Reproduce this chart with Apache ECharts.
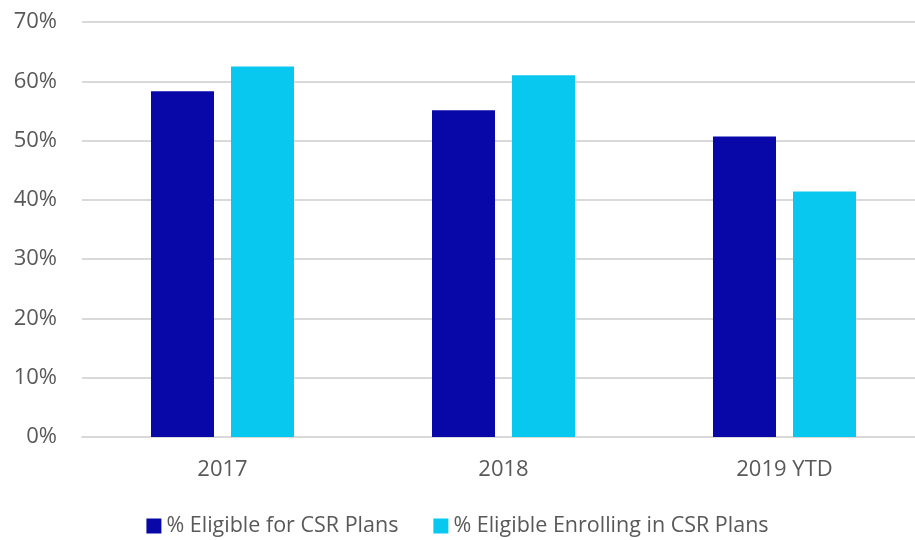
<!DOCTYPE html>
<html>
<head>
<meta charset="utf-8">
<script src="https://cdn.jsdelivr.net/npm/echarts@6/dist/echarts.min.js"></script>
<style>
  html, body { margin: 0; padding: 0; background: #fff; }
  #chart { width: 915px; height: 540px; }
</style>
</head>
<body>
<div id="chart"></div>
<script>
const categories = ["2017", "2018", "2019 YTD"];
const eligible = [58.3, 55.1, 50.7];
const enrolling = [62.5, 61.0, 41.4];
const seriesNames = ["% Eligible for CSR Plans", "% Eligible Enrolling in CSR Plans"];

const FONT = "'Open Sans', sans-serif";
const TEXT = "#595959";

const chart = echarts.init(document.getElementById("chart"));

chart.setOption({
  animation: false,
  color: ["#0808A8", "#08C8F0"],
  // plot runs a little past the right edge, as in the original
  grid: {
    left: 82, width: 843, top: 22, bottom: 103,
    containLabel: false, outerBoundsMode: "none"
  },
  legend: {
    bottom: -2,
    left: "center",
    itemWidth: 15,
    itemHeight: 15,
    itemGap: 35,
    icon: "rect",
    textStyle: { fontFamily: FONT, fontSize: 21.5, color: TEXT }
  },
  xAxis: {
    type: "category",
    data: categories,
    axisLine: { lineStyle: { color: "#d9d9d9", width: 2 } },
    axisTick: { show: false },
    axisLabel: { fontFamily: FONT, fontSize: 22, color: TEXT, margin: 22 }
  },
  yAxis: {
    type: "value",
    min: 0,
    max: 70,
    interval: 10,
    axisLine: { show: false },
    axisTick: { show: false },
    splitLine: { lineStyle: { color: "#d9d9d9", width: 2 } },
    axisLabel: {
      fontFamily: FONT, fontSize: 22, color: TEXT, margin: 25,
      formatter: v => v + "%"
    }
  },
  series: [
    { name: seriesNames[0], type: "bar", data: eligible, barWidth: 63, barGap: "27%" },
    { name: seriesNames[1], type: "bar", data: enrolling, barWidth: 63, barGap: "27%" }
  ]
});
</script>
</body>
</html>
